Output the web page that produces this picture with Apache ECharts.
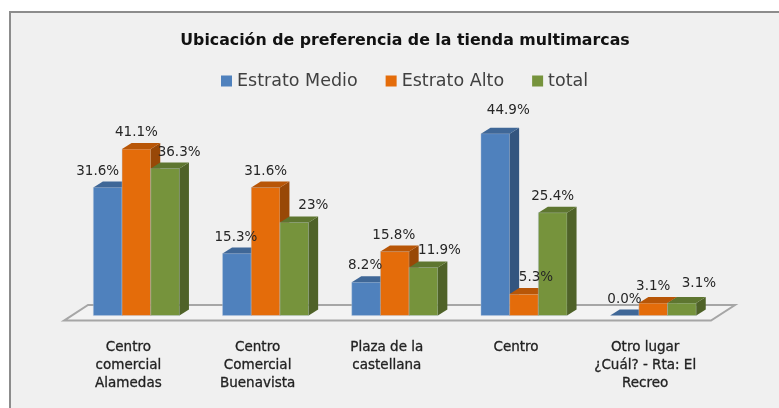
<!DOCTYPE html>
<html>
<head>
<meta charset="utf-8">
<style>
  html, body { margin: 0; padding: 0; background: #fff; }
  #main { width: 779px; height: 408px; }
</style>
<script src="https://cdn.jsdelivr.net/npm/echarts@6/dist/echarts.min.js"></script>
</head>
<body>
<div id="main"></div>
<script>
var categories = [
  "Centro\ncomercial\nAlamedas",
  "Centro\nComercial\nBuenavista",
  "Plaza de la\ncastellana",
  "Centro",
  "Otro lugar\n¿Cuál? - Rta: El\nRecreo"
];
var estratoMedio = [31.6, 15.3, 8.2, 44.9, 0];
var estratoAlto = [41.1, 31.6, 15.8, 5.3, 3.1];
var total = [36.3, 23, 11.9, 25.4, 3.1];
var labelsMedio = ["31.6%", "15.3%", "8.2%", "44.9%", "0.0%"];
var labelsAlto = ["41.1%", "31.6%", "15.8%", "5.3%", "3.1%"];
var labelsTotal = ["36.3%", "23%", "11.9%", "25.4%", "3.1%"];

// etiquetas movidas a mano en el original (dx, dy respecto a la posicion normal)
var nudgeMedio = [[-10, 0], [-1, 0], [-1, 0], [13, -7], [0, 0]];
var nudgeAlto = [[0, 0], [0, 0], [-1, 0], [12, 0], [0, 0]];
var nudgeTotal = [[14, 0], [19, 0], [16, 0], [0, 0], [17, -3]];

var DEPTH_X = 9.5;
var DEPTH_Y = 6;
var BAR_W = 28.7;

function shade(points, color) {
  return {
    type: "polygon",
    shape: { points: points },
    style: { fill: color }
  };
}

// barra 3D: frente, techo y lado
function bar3d(index, colors, labels, nudges) {
  return function(params, api) {
    var i = api.value(0);
    var top = api.coord([i, api.value(1)]);
    var base = api.coord([i, 0]);
    var x0 = top[0] + (index - 1.5) * BAR_W;
    var x1 = x0 + BAR_W;
    var children = [];
    if (base[1] - top[1] > 0.5) {
      children.push({
        type: "rect",
        shape: { x: x0, y: top[1], width: BAR_W, height: base[1] - top[1] },
        style: { fill: colors[0], stroke: "#b9cbe0", lineWidth: 0.4 }
      });
    }
    children.push(shade([[x1, top[1]], [x1 + DEPTH_X, top[1] - DEPTH_Y], [x1 + DEPTH_X, base[1] - DEPTH_Y], [x1, base[1]]], colors[2]));
    children.push(shade([[x0, top[1]], [x0 + DEPTH_X, top[1] - DEPTH_Y], [x1 + DEPTH_X, top[1] - DEPTH_Y], [x1, top[1]]], colors[1]));
    children.push({
      type: "text",
      z2: 50,
      style: {
        x: x0 + BAR_W / 2 + nudges[i][0],
        y: top[1] - 16.5 + nudges[i][1],
        text: labels[i],
        align: "center",
        verticalAlign: "middle",
        fill: "#262626",
        font: "13.5px 'DejaVu Sans'"
      }
    });
    return { type: "group", children: children };
  };
}

function makeSeries(name, index, values, colors, labels, nudges) {
  return {
    name: name,
    type: "custom",
    renderItem: bar3d(index, colors, labels, nudges),
    itemStyle: { color: colors[0] },
    data: values.map(function(v, i) { return [i, v]; }),
    encode: { x: 0, y: 1 },
    clip: false,
    silent: true
  };
}

var myChart = echarts.init(document.getElementById("main"));
myChart.setOption({
  animation: false,
  title: {
    text: "Ubicación de preferencia de la tienda multimarcas",
    left: 400,
    top: 28,
    textAlign: "center",
    textStyle: { fontFamily: "DejaVu Sans", fontWeight: "bold", fontSize: 15.8, color: "#111" }
  },
  legend: {
    left: 216,
    top: 67,
    itemWidth: 11,
    itemHeight: 11,
    itemGap: 28,
    icon: "rect",
    selectedMode: false,
    textStyle: { fontFamily: "DejaVu Sans", fontSize: 17.5, color: "#404040" },
    data: ["Estrato Medio", "Estrato Alto", "total"]
  },
  grid: { left: 71.8, width: 646, top: 113, height: 202.6 },
  xAxis: {
    type: "category",
    data: categories,
    axisLine: { show: false },
    axisTick: { show: false },
    axisLabel: {
      interval: 0,
      margin: 23,
      padding: [0, 16, 0, 0],
      lineHeight: 18,
      color: "#222",
      fontFamily: "DejaVu Sans",
      fontSize: 13.5,
      textBorderColor: "#222",
      textBorderWidth: 0.3
    }
  },
  yAxis: { type: "value", min: 0, max: 50, show: false },
  graphic: [
    {
      type: "rect",
      z: -10,
      shape: { x: 10, y: 12, width: 775, height: 402 },
      style: { fill: "#f0f0f0", stroke: "#8c8c8c", lineWidth: 2 }
    },
    {
      type: "polygon",
      z: -9,
      shape: { points: [[64, 320.6], [88, 305], [735, 305], [711, 320.6]] },
      style: { fill: "#f3f3f3", stroke: "#a6a6a6", lineWidth: 2 }
    }
  ],
  series: [
    makeSeries("Estrato Medio", 0, estratoMedio, ["#4f81bd", "#3f6797", "#33557f"], labelsMedio, nudgeMedio),
    makeSeries("Estrato Alto", 1, estratoAlto, ["#e46c0a", "#b85607", "#984807"], labelsAlto, nudgeAlto),
    makeSeries("total", 2, total, ["#76933c", "#5e7630", "#4f6228"], labelsTotal, nudgeTotal)
  ]
});
</script>
</body>
</html>
